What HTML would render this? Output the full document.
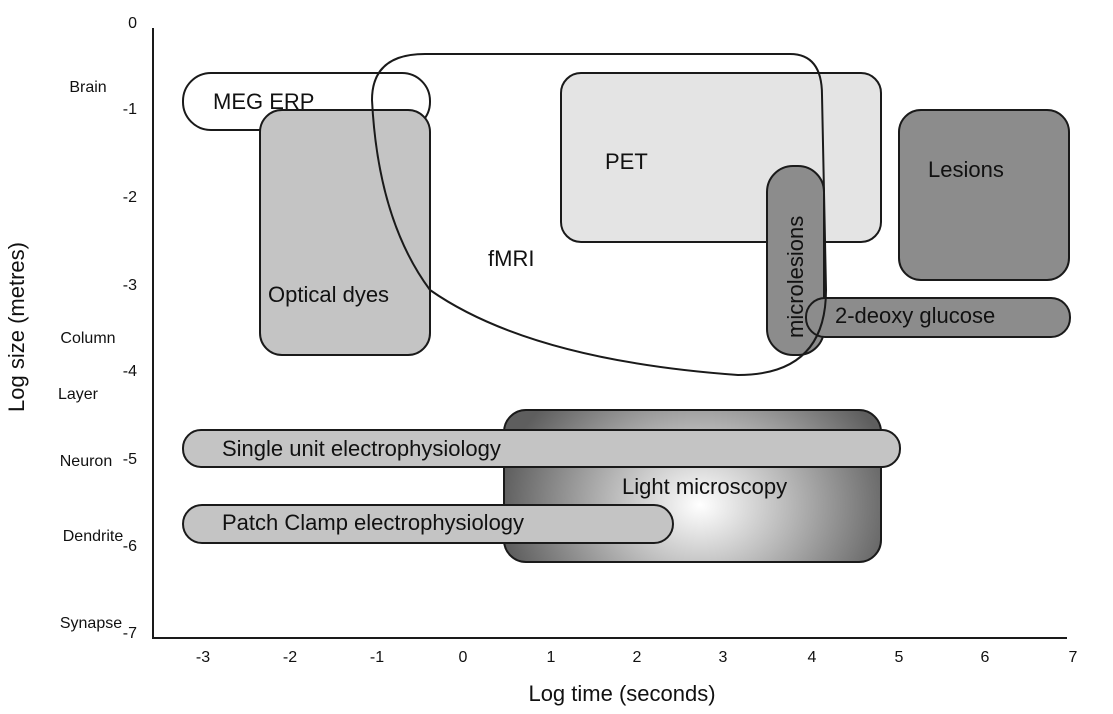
<!DOCTYPE html>
<html><head><meta charset="utf-8"><style>
html,body{margin:0;padding:0;background:#fff;}
svg{display:block;font-family:"Liberation Sans",sans-serif;}
</style></head><body>
<svg width="1113" height="714" viewBox="0 0 1113 714" xmlns="http://www.w3.org/2000/svg">
<defs>
<radialGradient id="lm" cx="700" cy="505" r="200" gradientUnits="userSpaceOnUse" gradientTransform="translate(700 505) scale(1 0.8) translate(-700 -505)">
<stop offset="0" stop-color="#ffffff"/>
<stop offset="0.45" stop-color="#b8b8b8"/>
<stop offset="1" stop-color="#5e5e5e"/>
</radialGradient>
</defs>
<g stroke="#1a1a1a" stroke-width="2">
<line x1="153" y1="28" x2="153" y2="639"/>
<line x1="153" y1="638" x2="1067" y2="638"/>
</g>
<g font-size="16" fill="#111" text-anchor="end">
<text x="137" y="28">0</text>
<text x="137" y="114">-1</text>
<text x="137" y="202">-2</text>
<text x="137" y="290">-3</text>
<text x="137" y="376">-4</text>
<text x="137" y="464">-5</text>
<text x="137" y="551">-6</text>
<text x="137" y="638">-7</text>
</g>
<g font-size="16" fill="#111" text-anchor="middle">
<text x="88" y="92">Brain</text>
<text x="88" y="343">Column</text>
<text x="78" y="399">Layer</text>
<text x="86" y="466">Neuron</text>
<text x="93" y="541">Dendrite</text>
<text x="91" y="628">Synapse</text>
</g>
<g font-size="16" fill="#111" text-anchor="middle">
<text x="203" y="662">-3</text><text x="290" y="662">-2</text><text x="377" y="662">-1</text>
<text x="463" y="662">0</text><text x="551" y="662">1</text><text x="637" y="662">2</text>
<text x="723" y="662">3</text><text x="812" y="662">4</text><text x="899" y="662">5</text>
<text x="985" y="662">6</text><text x="1073" y="662">7</text>
</g>
<text x="622" y="701" font-size="22" text-anchor="middle" fill="#111">Log time (seconds)</text>
<text transform="translate(24 327) rotate(-90)" font-size="22" text-anchor="middle" fill="#111">Log size (metres)</text>

<g stroke="#1a1a1a" stroke-width="2">
<rect x="183" y="73" width="247" height="57" rx="28" fill="#fff"/>
<rect x="260" y="110" width="170" height="245" rx="22" fill="#c4c4c4"/>
<rect x="561" y="73" width="320" height="169" rx="20" fill="#e4e4e4"/>
<rect x="899" y="110" width="170" height="170" rx="22" fill="#8c8c8c"/>
<rect x="767" y="166" width="57" height="189" rx="26" fill="#8c8c8c"/>
<rect x="806" y="298" width="264" height="39" rx="19" fill="#8c8c8c"/>
<rect x="504" y="410" width="377" height="152" rx="22" fill="url(#lm)"/>
<rect x="183" y="430" width="717" height="37" rx="18" fill="#c4c4c4"/>
<rect x="183" y="505" width="490" height="38" rx="19" fill="#c4c4c4"/>
<path d="M 425,54 L 790,54 Q 822,54 822,95 L 826,290 Q 826,375 738,375 Q 530,360 430,290 Q 378,220 372,100 Q 372,54 425,54 Z" fill="none"/>
</g>
<g fill="#111" font-size="22">
<text x="213" y="109">MEG  ERP</text>
<text x="268" y="302">Optical dyes</text>
<text x="488" y="266">fMRI</text>
<text x="605" y="169">PET</text>
<text x="928" y="177">Lesions</text>
<text x="835" y="323">2-deoxy glucose</text>
<text transform="translate(803 338) rotate(-90)">microlesions</text>
<text x="222" y="456">Single unit electrophysiology</text>
<text x="622" y="494">Light microscopy</text>
<text x="222" y="530">Patch Clamp electrophysiology</text>
</g>
</svg>
</body></html>
